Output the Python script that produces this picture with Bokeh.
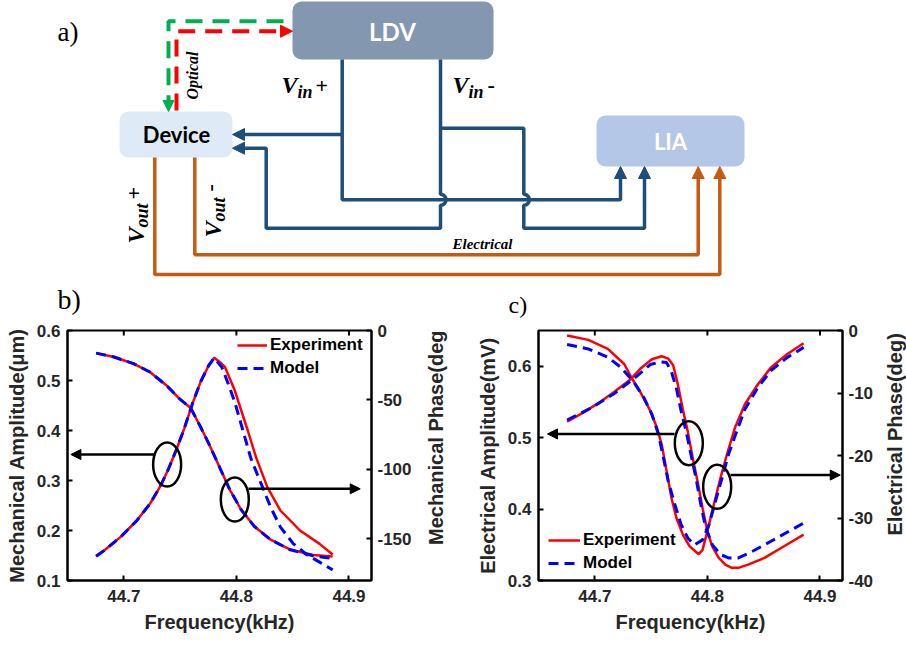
import numpy as np
from bokeh.plotting import figure
from bokeh.models import Range1d, LinearAxis, FixedTicker, Arrow, NormalHead, Legend, LegendItem
from bokeh.layouts import column, row
from bokeh.embed import file_html
from bokeh.resources import INLINE
from bokeh.core.properties import value

# ---------------- panel b data (mechanical) ----------------
b_amp_exp_freq = [44.6754, 44.6826, 44.6970, 44.7116, 44.7232, 44.7320, 44.7391, 44.7464, 44.7536,
                  44.7609, 44.7681, 44.7754, 44.7803, 44.7855, 44.7899, 44.7986, 44.8043, 44.8101,
                  44.8174, 44.8275, 44.8391, 44.8565, 44.8739, 44.8855]
b_amp_exp = [0.1487, 0.1600, 0.1867, 0.2200, 0.2533, 0.2867, 0.3200, 0.3600, 0.4033,
             0.4533, 0.4967, 0.5300, 0.5453, 0.5367, 0.5267, 0.4800, 0.4400, 0.4000,
             0.3467, 0.2867, 0.2400, 0.2000, 0.1733, 0.1520]
b_amp_mod_freq = [44.6754, 44.6826, 44.6970, 44.7116, 44.7232, 44.7320, 44.7391, 44.7464, 44.7536,
                  44.7609, 44.7681, 44.7754, 44.7803, 44.7870, 44.7928, 44.7986, 44.8058, 44.8130,
                  44.8232, 44.8304, 44.8391, 44.8507, 44.8623, 44.8739, 44.8855]
b_amp_mod = [0.1487, 0.1600, 0.1867, 0.2200, 0.2533, 0.2867, 0.3200, 0.3600, 0.4033,
             0.4533, 0.4967, 0.5300, 0.5453, 0.5270, 0.4933, 0.4567, 0.4000, 0.3433,
             0.2867, 0.2467, 0.2067, 0.1733, 0.1520, 0.1367, 0.1213]
b_ph_freq = [44.6754, 44.6913, 44.7087, 44.7232, 44.7377, 44.7493, 44.7594, 44.7681, 44.7768,
             44.7855, 44.7942, 44.8043, 44.8159, 44.8304, 44.8478, 44.8681, 44.8855]
b_ph_exp = [-16.3, -19.1, -23.9, -29.9, -39.4, -49.0, -55.8, -69.3, -83.7,
            -99.2, -114.7, -129.1, -141.0, -150.6, -157.7, -161.6, -162.8]
b_ph_mod = [-16.3, -19.1, -23.9, -29.9, -39.4, -49.0, -55.8, -69.3, -83.7,
            -99.2, -114.7, -129.1, -141.0, -150.6, -157.9, -162.2, -164.2]

# ---------------- panel c data (electrical) ----------------
c_amp_exp_freq = [44.6754, 44.6884, 44.7029, 44.7174, 44.7319, 44.7406, 44.7507, 44.7594, 44.7652,
                  44.7696, 44.7739, 44.7783, 44.7826, 44.7870, 44.7913, 44.7957, 44.8000, 44.8043,
                  44.8101, 44.8159, 44.8217, 44.8275, 44.8362, 44.8507, 44.8681, 44.8855]
c_amp_exp = [0.5223, 0.5340, 0.5479, 0.5642, 0.5819, 0.5967, 0.6098, 0.6140, 0.6107,
             0.6014, 0.5735, 0.5386, 0.5084, 0.4712, 0.4386, 0.4014, 0.3688, 0.3479,
             0.3316, 0.3223, 0.3177, 0.3177, 0.3223, 0.3316, 0.3479, 0.3642]
c_amp_mod_freq = [44.6754, 44.6971, 44.7174, 44.7348, 44.7493, 44.7580, 44.7638, 44.7681, 44.7725,
                  44.7768, 44.7812, 44.7855, 44.7899, 44.7942, 44.7986, 44.8043, 44.8116, 44.8188,
                  44.8275, 44.8391, 44.8565, 44.8855]
c_amp_mod = [0.5247, 0.5419, 0.5619, 0.5828, 0.6023, 0.6060, 0.6051, 0.5921, 0.5688,
             0.5363, 0.5084, 0.4758, 0.4433, 0.4060, 0.3735, 0.3502, 0.3363, 0.3316,
             0.3316, 0.3400, 0.3549, 0.3805]
c_ph_exp_freq = [44.6754, 44.6942, 44.7116, 44.7261, 44.7333, 44.7406, 44.7493, 44.7551, 44.7594,
                 44.7638, 44.7681, 44.7725, 44.7783, 44.7841, 44.7922, 44.7957, 44.8000, 44.8058,
                 44.8116, 44.8174, 44.8246, 44.8333, 44.8449, 44.8565, 44.8710, 44.8855]
c_ph_exp = [-0.80, -1.50, -2.95, -5.36, -7.76, -9.91, -12.85, -15.53, -18.2,
            -22.5, -26.8, -30.0, -32.7, -34.5, -35.8, -35.1, -32.1, -27.8,
            -23.6, -19.8, -15.5, -11.8, -8.6, -5.9, -3.75, -2.03]
c_ph_mod_freq = [44.6754, 44.6942, 44.7116, 44.7232, 44.7348, 44.7435, 44.7507, 44.7565, 44.7609,
                 44.7652, 44.7710, 44.7768, 44.7826, 44.7884, 44.7957, 44.8014, 44.8072, 44.8130,
                 44.8188, 44.8261, 44.8333, 44.8449, 44.8565, 44.8710, 44.8855]
c_ph_mod = [-2.25, -2.95, -4.28, -5.89, -8.3, -10.7, -13.4, -16.6, -20.3,
            -24.1, -27.8, -31.1, -33.2, -34.3, -33.5, -31.1, -27.3, -23.6,
            -19.8, -16.1, -12.6, -9.1, -6.4, -4.3, -2.7]

freq_ticks = [44.7, 44.8, 44.9]
b_amp_ticks = [0.1, 0.2, 0.3, 0.4, 0.5, 0.6]
b_ph_ticks = [0, -50, -100, -150]
c_amp_ticks = [0.3, 0.4, 0.5, 0.6]
c_ph_ticks = [0, -10, -20, -30, -40]

RED = "#FF0000"
BLUE = "#0000FF"
GREY = "#262626"
FONT = "Liberation Sans"
SERIF = "Liberation Serif"
WIRE = "#1F4E79"
ORANGE = "#C55A11"

TOP_H = 320
BOT_H = 325
FRAME_W = 304
FRAME_H = 250
BORDER_TOP = 10

# ================= schematic (a) =================
s = figure(width=906, height=TOP_H, x_range=Range1d(0, 906), y_range=Range1d(TOP_H, 0),
           x_axis_type=None, y_axis_type=None, toolbar_location=None,
           output_backend="svg", min_border=0)
s.grid.visible = False
s.outline_line_color = None

box_names = ["LDV", "Device", "LIA"]
box_left = [292, 119, 596]
box_right = [493, 232, 744]
box_top = [1, 111, 115]
box_bottom = [59, 157, 166]
box_fill = ["#8497B0", "#DEEBF7", "#B4C7E7"]
s.quad(left=box_left, right=box_right, top=box_top, bottom=box_bottom,
       fill_color=box_fill, line_color=None, border_radius=9)
s.text(x=[392], y=[31], text=["LDV"], text_align="center", text_baseline="middle",
       text_font=value("Lato"), text_font_style="bold", text_font_size="24px", text_color="white")
s.text(x=[176], y=[134], text=["Device"], text_align="center", text_baseline="middle",
       text_font=value("Lato"), text_font_style="bold", text_font_size="22px", text_color="black")
s.text(x=[670], y=[141], text=["LIA"], text_align="center", text_baseline="middle",
       text_font=value("Lato"), text_font_style="bold", text_font_size="22px", text_color="white")


def head(fig, xt, yt, dx, dy, color, size):
    fig.add_layout(Arrow(end=NormalHead(size=size, fill_color=color, line_color=color, line_width=1),
                         x_start=xt + dx, y_start=yt + dy, x_end=xt, y_end=yt,
                         line_alpha=0, line_width=1))


def hop(cx, cy, r=5.5):
    t = np.linspace(0, np.pi, 12)
    return list(cx + r * np.sin(t)), list(cy - r * np.cos(t))


# optical paths
s.line(x=[283, 168, 168], y=[20.7, 20.7, 100], line_color="#00B050", line_width=4, line_dash="17 10")
head(s, 168, 111, 0, -12, "#00B050", 11)
s.line(x=[176, 176, 281], y=[110, 30.7, 30.7], line_color=RED, line_width=4, line_dash="17 10")
head(s, 292, 30.7, -12, 0, RED, 12)

# Vin+ wires
s.line(x=[341.7, 341.7, 620, 620], y=[59, 199.3, 199.3, 174], line_color=WIRE, line_width=3.5)
s.line(x=[341.7, 240], y=[134, 134], line_color=WIRE, line_width=3.5)
head(s, 620, 166, 0, 12, WIRE, 12)
head(s, 232, 134, 12, 0, WIRE, 12)
# Vin- wires
hx, hy = hop(440, 199.3)
s.line(x=[440] + hx + [440, 265.7, 265.7, 240], y=[59] + hy + [227.7, 227.7, 147.7, 147.7],
       line_color=WIRE, line_width=3.5)
hx2, hy2 = hop(523.3, 199.3)
s.line(x=[440, 523.3] + hx2 + [523.3, 644, 644], y=[127.7, 127.7] + hy2 + [227.7, 227.7, 174],
       line_color=WIRE, line_width=3.5)
head(s, 232, 147.7, 12, 0, WIRE, 12)
head(s, 644, 166, 0, 12, WIRE, 12)
# Vout wires
s.line(x=[154.3, 154.3, 719.3, 719.3], y=[157, 274, 274, 174], line_color=ORANGE, line_width=3.5)
s.line(x=[194.3, 194.3, 697.7, 697.7], y=[157, 254.3, 254.3, 174], line_color=ORANGE, line_width=3.5)
head(s, 719.3, 166, 0, 12, ORANGE, 12)
head(s, 697.7, 166, 0, 12, ORANGE, 12)


def stext(x, y, t, size, style="bold italic", angle=0.0, font=SERIF):
    s.text(x=[x], y=[y], text=[t], angle=angle, text_font=value(font), text_font_style=style,
           text_font_size=size, text_color="black", text_align="left", text_baseline="middle")


ROT = np.pi / 2
stext(57, 31, "a)", "27px", style="normal")
stext(57, 299, "b)", "28px", style="normal")
stext(508, 304, "c)", "24px", style="normal")
stext(281, 84, "V", "24px")
stext(297, 91, "in", "18px")
stext(315, 85, "+", "22px", style="bold")
stext(452, 84, "V", "24px")
stext(468, 91, "in", "18px")
stext(487, 84, "-", "22px", style="bold")
stext(135, 243, "V", "24px", angle=ROT)
stext(141, 227, "out", "18px", angle=ROT)
stext(133, 199, "+", "22px", style="bold", angle=ROT)
stext(212, 237, "V", "24px", angle=ROT)
stext(218, 221, "out", "18px", angle=ROT)
stext(209, 191, "-", "22px", style="bold", angle=ROT)
stext(192, 99, "Optical", "16px", angle=ROT)
stext(452, 243, "Electrical", "15px")


# ================= plots b and c =================
def style_axis(ax, ticks, label_standoff=6, axis_standoff=5, overrides=None):
    ax.ticker = FixedTicker(ticks=ticks)
    ax.axis_line_width = 2
    ax.axis_line_color = "black"
    ax.major_tick_line_width = 2
    ax.major_tick_line_color = "black"
    ax.major_tick_in = 5
    ax.major_tick_out = 0
    ax.minor_tick_line_color = None
    ax.major_label_standoff = label_standoff
    ax.axis_label_standoff = axis_standoff
    ax.major_label_text_font = FONT
    ax.major_label_text_font_style = "bold"
    ax.major_label_text_font_size = "17px"
    ax.major_label_text_color = GREY
    ax.axis_label_text_font = FONT
    ax.axis_label_text_font_style = "bold"
    ax.axis_label_text_font_size = "20px"
    ax.axis_label_text_color = GREY
    if overrides:
        ax.major_label_overrides = overrides


def make_panel(ylo, yhi, plo, ml, mr, amp_ticks, ph_ticks, ylabel):
    p = figure(width=ml + FRAME_W + mr, height=BOT_H, x_range=Range1d(44.65, 44.92),
               y_range=Range1d(ylo, yhi), toolbar_location=None, output_backend="svg",
               min_border_left=ml, min_border_right=mr, min_border_top=BORDER_TOP, min_border_bottom=65)
    p.extra_y_ranges = {"ph": Range1d(plo, 0)}
    p.grid.visible = False
    p.outline_line_color = "black"
    p.outline_line_width = 2
    style_axis(p.xaxis[0], freq_ticks, label_standoff=9, axis_standoff=6)
    p.xaxis[0].axis_label = "Frequency(kHz)"
    style_axis(p.yaxis[0], amp_ticks, label_standoff=7, axis_standoff=6)
    p.yaxis[0].axis_label = ylabel
    rax = LinearAxis(y_range_name="ph")
    style_axis(rax, ph_ticks, label_standoff=6, overrides={t: str(t) for t in ph_ticks})
    p.add_layout(rax, "right")
    # tick marks on the top edge of the box (5 px long, pointing inward)
    tick_len = 5.0 * (yhi - ylo) / FRAME_H
    p.segment(x0=freq_ticks, x1=freq_ticks, y0=[yhi] * len(freq_ticks),
              y1=[yhi - tick_len] * len(freq_ticks), line_color="black", line_width=2)
    return p


def right_title(text, width, xc):
    # narrow strip holding the right-axis title, reading bottom-to-top
    f = figure(width=width, height=BOT_H, x_range=Range1d(0, width), y_range=Range1d(0, BOT_H),
               x_axis_type=None, y_axis_type=None, toolbar_location=None,
               output_backend="svg", min_border=0)
    f.grid.visible = False
    f.outline_line_color = None
    f.text(x=[xc], y=[BOT_H - BORDER_TOP - FRAME_H / 2], text=[text], angle=np.pi / 2,
           text_align="center", text_baseline="middle", text_font=value(FONT),
           text_font_style="bold", text_font_size="20px", text_color=GREY)
    return f


pb = make_panel(0.1, 0.6, -180, 67, 48, b_amp_ticks, b_ph_ticks, "Mechanical Amplitude(\u03bcm)")
r1 = pb.line(b_amp_exp_freq, b_amp_exp, line_color=RED, line_width=2.5)
pb.line(b_ph_freq, b_ph_exp, line_color=RED, line_width=2.5, y_range_name="ph")
r2 = pb.line(b_amp_mod_freq, b_amp_mod, line_color=BLUE, line_width=3, line_dash="10 6")
pb.line(b_ph_freq, b_ph_mod, line_color=BLUE, line_width=3, line_dash="10 6", y_range_name="ph")
pb.ellipse(x=[44.7385, 44.7986], y=[0.332, 0.262], width=28, height=44,
           width_units="screen", height_units="screen", fill_color=None, line_color="black", line_width=2.5)
pb.add_layout(Arrow(end=NormalHead(size=10, fill_color="black", line_color="black"),
                    x_start=44.728, y_start=0.352, x_end=44.653, y_end=0.352, line_width=2.5))
pb.add_layout(Arrow(end=NormalHead(size=10, fill_color="black", line_color="black"),
                    x_start=44.8107, y_start=0.2834, x_end=44.910, y_end=0.2834, line_width=2.5))
lb = Legend(items=[LegendItem(label="Experiment", renderers=[r1]), LegendItem(label="Model", renderers=[r2])],
            location=(170, 202), border_line_color=None, background_fill_alpha=0, padding=0, margin=0,
            spacing=3, glyph_width=30, glyph_height=20, label_height=20, label_standoff=3,
            label_text_font=FONT, label_text_font_style="bold", label_text_font_size="17px",
            label_text_color="black")
pb.add_layout(lb)
tb = right_title("Mechanical Phase(deg)", 34, 16)

pc = make_panel(0.3, 0.65, -40, 85, 40, c_amp_ticks, c_ph_ticks, "Electrical Amplitude(mV)")
q1 = pc.line(c_amp_exp_freq, c_amp_exp, line_color=RED, line_width=2.5)
pc.line(c_ph_exp_freq, c_ph_exp, line_color=RED, line_width=2.5, y_range_name="ph")
q2 = pc.line(c_amp_mod_freq, c_amp_mod, line_color=BLUE, line_width=3, line_dash="10 6")
pc.line(c_ph_mod_freq, c_ph_mod, line_color=BLUE, line_width=3, line_dash="10 6", y_range_name="ph")
pc.ellipse(x=[44.7835, 44.8087], y=[0.4922, 0.4312], width=28, height=44,
           width_units="screen", height_units="screen", fill_color=None, line_color="black", line_width=2.5)
pc.add_layout(Arrow(end=NormalHead(size=10, fill_color="black", line_color="black"),
                    x_start=44.7708, y_start=0.5052, x_end=44.658, y_end=0.5052, line_width=2.5))
pc.add_layout(Arrow(end=NormalHead(size=10, fill_color="black", line_color="black"),
                    x_start=44.8205, y_start=0.4476, x_end=44.918, y_end=0.4476, line_width=2.5))
lc = Legend(items=[LegendItem(label="Experiment", renderers=[q1]), LegendItem(label="Model", renderers=[q2])],
            location=(10, 7), border_line_color=None, background_fill_alpha=0, padding=0, margin=0,
            spacing=3, glyph_width=32, glyph_height=20, label_height=20, label_standoff=3,
            label_text_font=FONT, label_text_font_style="bold", label_text_font_size="17px",
            label_text_color="black")
pc.add_layout(lc)
tc = right_title("Electrical Phase(deg)", 24, 12)

layout = column(s, row(pb, tb, pc, tc, spacing=0), spacing=0)
open("out.html", "w").write(file_html(layout, INLINE))
